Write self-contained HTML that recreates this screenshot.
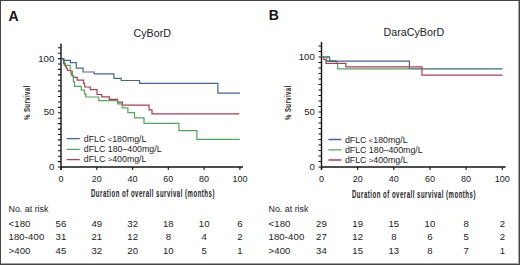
<!DOCTYPE html>
<html><head><meta charset="utf-8">
<style>
*{margin:0;padding:0;box-sizing:border-box}
html,body{width:520px;height:265px;overflow:hidden;background:#fff}
body{position:relative;font-family:"Liberation Sans",sans-serif;color:#222}
#frame{position:absolute;left:0;top:0;width:520px;height:265px;border-style:solid;border-color:#454545;border-width:1px;box-shadow:inset -1px -1px 0 #a5a5a5}
.t{position:absolute;white-space:nowrap;line-height:1}
.pl{font-weight:bold;font-size:14px;color:#111}
.ti{font-size:10.7px;color:#222}
.yl{font-size:9.6px;color:#222;text-align:right;width:20px}
.xl{font-size:9px;color:#222;text-align:center;width:24px}
.lg{font-size:8.8px;color:#222}
.lt{font-size:7.6px;font-weight:normal}
.at{font-size:10.8px;font-weight:bold;color:#2a2a2a;transform-origin:0 0}
.ax{font-size:10.8px;font-weight:bold;color:#222;transform-origin:0 0;letter-spacing:0.9px}
.rk{font-size:9.6px;color:#222;letter-spacing:0.1px}
.rn{font-size:9.6px;color:#222;text-align:center;width:20px;letter-spacing:0.1px;text-indent:0.1px}
svg{position:absolute;left:0;top:0}
</style></head><body>
<div id="frame"></div>
<svg width="520" height="265" viewBox="0 0 520 265">
 <g stroke="#151515" stroke-width="1.4" fill="none">
  <!-- left axes -->
  <path d="M61,43.5V170 M60.4,167H243"/>
  <!-- right axes -->
  <path d="M321.5,42V170 M320.9,167H505.6"/>
 </g>
 <g id="lt" stroke="#111" stroke-width="1.1" fill="none"><path d="M58.0,167.0H61.0M58.0,161.6H61.0M58.0,156.2H61.0M58.0,150.7H61.0M58.0,145.3H61.0M58.0,139.9H61.0M58.0,134.5H61.0M58.0,129.1H61.0M58.0,123.6H61.0M58.0,118.2H61.0M58.0,112.8H61.0M58.0,107.4H61.0M58.0,102.0H61.0M58.0,96.5H61.0M58.0,91.1H61.0M58.0,85.7H61.0M58.0,80.3H61.0M58.0,74.9H61.0M58.0,69.4H61.0M58.0,64.0H61.0M58.0,58.6H61.0M58.0,53.2H61.0M58.0,47.8H61.0M61.0,167.0V170.0M96.8,167.0V170.0M132.6,167.0V170.0M168.3,167.0V170.0M204.1,167.0V170.0M239.9,167.0V170.0"/></g>
 <g id="rt" stroke="#111" stroke-width="1.1" fill="none"><path d="M318.5,167.0H321.5M318.5,161.5H321.5M318.5,156.0H321.5M318.5,150.5H321.5M318.5,145.0H321.5M318.5,139.5H321.5M318.5,134.0H321.5M318.5,128.5H321.5M318.5,123.0H321.5M318.5,117.5H321.5M318.5,112.0H321.5M318.5,106.5H321.5M318.5,101.0H321.5M318.5,95.5H321.5M318.5,90.0H321.5M318.5,84.5H321.5M318.5,79.0H321.5M318.5,73.5H321.5M318.5,68.0H321.5M318.5,62.5H321.5M318.5,57.0H321.5M318.5,51.5H321.5M318.5,46.0H321.5M321.5,167.0V170.0M357.7,167.0V170.0M393.8,167.0V170.0M430.0,167.0V170.0M466.1,167.0V170.0M502.3,167.0V170.0"/></g>
 <!-- left curves -->
 <g fill="none" stroke-width="1.2">
  <path stroke="#b83a50" d="M61,58.6H63.6V63.6H64.4V64.8H65.3V66.5H66.3V68.5H67.5V70.5H71V73.5H71.8V75.5H73.3V77.3H77.2V80.2H83.6V83.5H84.7V87H90.3V89.7H97V94.5H101.8V96.8H109.3V99.4H117.6V102.1H122.6V105.2H149V109.8H152V113.9H239.3"/>
  <path stroke="#4ea85a" d="M61,58.6H63.8V60.5H64.4V63H65.5V65.4H70.2V71H70.5V71H72.4V76H73.4V81.8H74.5V86.3H81.3V90.1H84.5V93.8H85.8V97H98.8V100.6H117.6V103.8H122.1V107.9H127.9V112.7H134.5V117.8H144V123.4H178.9V130.7H196.9V139.4H239.8"/>
  <path stroke="#44659a" d="M61,58.6H62.5V59.4H63.7V60.4H70.4V62.6H76.3V68.1H83.1V72H94.2V73.8H113.9V78.4H121.2V80.5H139.6V83.4H217.9V93.1H240"/>
 </g>
 <!-- right curves -->
 <g fill="none" stroke-width="1.2">
  <path stroke="#4ea85a" d="M321.5,57H326.6V61.2H336.2V63.3H337.6V68.8H409.4"/>
  <path stroke="#44659a" d="M326.6,57H329.7V61.2H409.4V68.8"/>
  <path stroke="#2f7468" d="M321.5,57H329.7M326.6,61.2H336.2M409.4,68.8H502.5"/>
  <path stroke="#b83a50" d="M323.8,57V59.5H326V63.3H345.9V66.8H421.9V75.2H502.5"/>
 </g>
 <!-- legends -->
 <g stroke-width="1.3">
  <path stroke="#44659a" d="M66.6,138.7H79.8 M328.4,139.5H341.3"/>
  <path stroke="#4ea85a" d="M66.6,149.3H79.8 M328.4,149.9H341.3"/>
  <path stroke="#b83a50" d="M66.6,159.6H79.8 M328.4,160H341.3"/>
 </g>
</svg>

<div class="t pl" style="left:8.5px;top:9px">A</div>
<div class="t pl" style="left:268.7px;top:7.7px">B</div>
<div class="t ti" style="left:133.5px;top:27.5px">CyBorD</div>
<div class="t ti" style="left:383.6px;top:26.9px">DaraCyBorD</div>

<!-- left y labels -->
<div class="t yl" style="left:34.3px;top:53.6px">100</div>
<div class="t yl" style="left:34.3px;top:107.1px">50</div>
<div class="t yl" style="left:34.3px;top:161.6px">0</div>
<!-- right y labels -->
<div class="t yl" style="left:294.8px;top:52.1px">100</div>
<div class="t yl" style="left:294.8px;top:106.6px">50</div>
<div class="t yl" style="left:294.8px;top:161.6px">0</div>

<!-- left x labels -->
<div class="t xl" style="left:49px;top:174.8px">0</div>
<div class="t xl" style="left:84.8px;top:174.8px">20</div>
<div class="t xl" style="left:120.6px;top:174.8px">40</div>
<div class="t xl" style="left:156.3px;top:174.8px">60</div>
<div class="t xl" style="left:192.1px;top:174.8px">80</div>
<div class="t xl" style="left:227.9px;top:174.8px">100</div>
<!-- right x labels -->
<div class="t xl" style="left:309.5px;top:174.8px">0</div>
<div class="t xl" style="left:345.7px;top:174.8px">20</div>
<div class="t xl" style="left:381.8px;top:174.8px">40</div>
<div class="t xl" style="left:418px;top:174.8px">60</div>
<div class="t xl" style="left:454.1px;top:174.8px">80</div>
<div class="t xl" style="left:490.3px;top:174.8px">100</div>

<!-- axis titles -->
<div class="t ax" style="left:90.7px;top:188.3px;transform:scaleX(0.559)">Duration of overall survival (months)</div>
<div class="t ax" style="left:352.3px;top:188.5px;transform:scaleX(0.559)">Duration of overall survival (months)</div>
<div class="t at" style="left:23.2px;top:120px;font-size:9.2px;letter-spacing:0.7px;transform:rotate(-90deg) scaleX(0.65)">% Survival</div>
<div class="t at" style="left:284px;top:119.5px;font-size:9.2px;letter-spacing:0.7px;transform:rotate(-90deg) scaleX(0.65)">% Survival</div>

<!-- legends -->
<div class="t lg" style="left:83.8px;top:135px">dFLC <span class="lt">&lt;</span>180mg/L</div>
<div class="t lg" style="left:83.8px;top:145.2px">dFLC 180–400mg/L</div>
<div class="t lg" style="left:83.8px;top:155.3px">dFLC <span class="lt">&gt;</span>400mg/L</div>
<div class="t lg" style="left:344.9px;top:136.2px">dFLC <span class="lt">&lt;</span>180mg/L</div>
<div class="t lg" style="left:344.9px;top:146.1px">dFLC 180–400mg/L</div>
<div class="t lg" style="left:344.9px;top:156px">dFLC <span class="lt">&gt;</span>400mg/L</div>

<!-- risk tables -->
<div class="t rk" style="left:8.5px;top:205.3px;letter-spacing:0;font-size:8.9px">No. at risk</div>
<div class="t rk" style="left:8.5px;top:218.9px">&lt;180</div>
<div class="t rk" style="left:8.5px;top:232.4px">180-400</div>
<div class="t rk" style="left:8.5px;top:246.0px">&gt;400</div>
<div class="t rk" style="left:268.5px;top:205.3px;letter-spacing:0;font-size:8.9px">No. at risk</div>
<div class="t rk" style="left:268.5px;top:218.9px">&lt;180</div>
<div class="t rk" style="left:268.5px;top:232.4px">180-400</div>
<div class="t rk" style="left:268.5px;top:246.0px">&gt;400</div>
<div id="nums">
<div class="t rn" style="left:51.0px;top:218.9px">56</div>
<div class="t rn" style="left:86.8px;top:218.9px">49</div>
<div class="t rn" style="left:122.6px;top:218.9px">32</div>
<div class="t rn" style="left:158.3px;top:218.9px">18</div>
<div class="t rn" style="left:194.1px;top:218.9px">10</div>
<div class="t rn" style="left:229.9px;top:218.9px">6</div>
<div class="t rn" style="left:51.0px;top:232.4px">31</div>
<div class="t rn" style="left:86.8px;top:232.4px">21</div>
<div class="t rn" style="left:122.6px;top:232.4px">12</div>
<div class="t rn" style="left:158.3px;top:232.4px">8</div>
<div class="t rn" style="left:194.1px;top:232.4px">4</div>
<div class="t rn" style="left:229.9px;top:232.4px">2</div>
<div class="t rn" style="left:51.0px;top:246.0px">45</div>
<div class="t rn" style="left:86.8px;top:246.0px">32</div>
<div class="t rn" style="left:122.6px;top:246.0px">20</div>
<div class="t rn" style="left:158.3px;top:246.0px">10</div>
<div class="t rn" style="left:194.1px;top:246.0px">5</div>
<div class="t rn" style="left:229.9px;top:246.0px">1</div>
<div class="t rn" style="left:311.5px;top:218.9px">29</div>
<div class="t rn" style="left:347.7px;top:218.9px">19</div>
<div class="t rn" style="left:383.8px;top:218.9px">15</div>
<div class="t rn" style="left:420.0px;top:218.9px">10</div>
<div class="t rn" style="left:456.1px;top:218.9px">8</div>
<div class="t rn" style="left:492.3px;top:218.9px">2</div>
<div class="t rn" style="left:311.5px;top:232.4px">27</div>
<div class="t rn" style="left:347.7px;top:232.4px">12</div>
<div class="t rn" style="left:383.8px;top:232.4px">8</div>
<div class="t rn" style="left:420.0px;top:232.4px">6</div>
<div class="t rn" style="left:456.1px;top:232.4px">5</div>
<div class="t rn" style="left:492.3px;top:232.4px">2</div>
<div class="t rn" style="left:311.5px;top:246.0px">34</div>
<div class="t rn" style="left:347.7px;top:246.0px">15</div>
<div class="t rn" style="left:383.8px;top:246.0px">13</div>
<div class="t rn" style="left:420.0px;top:246.0px">8</div>
<div class="t rn" style="left:456.1px;top:246.0px">7</div>
<div class="t rn" style="left:492.3px;top:246.0px">1</div>
</div>
</body></html>
